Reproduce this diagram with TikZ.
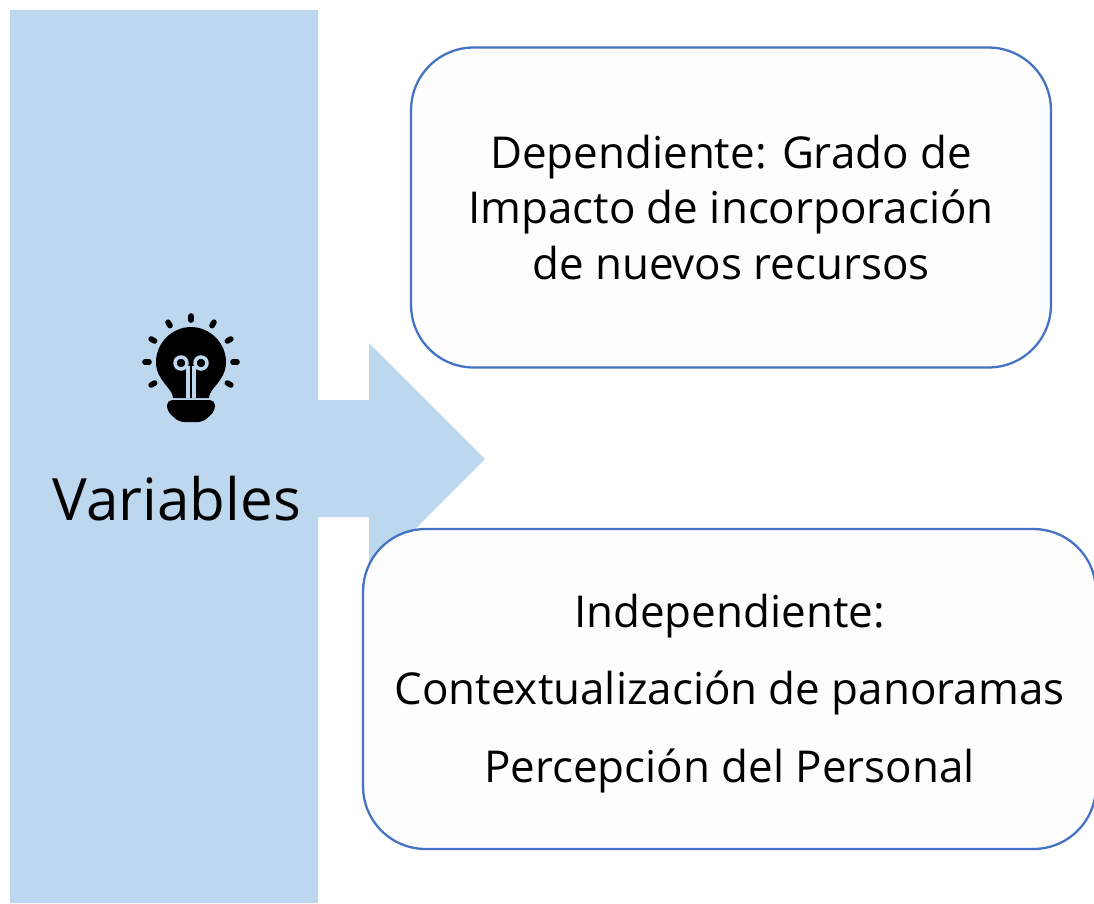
\documentclass[tikz,border=0pt]{standalone}
\usepackage{fontspec}
\setmainfont{Open Sans}
\definecolor{bandblue}{HTML}{BDD7EE}
\definecolor{boxline}{HTML}{4472C4}
\definecolor{boxfill}{HTML}{FDFDFE}
\tikzset{
    varbox/.style={draw=boxline, line width=1.3pt, fill=boxfill, rounded corners=1.25cm, inner sep=0pt, minimum height=6.4cm, align=center},
    ray/.style={line width=3.2pt, line cap=round},
    filament/.style={draw=bandblue, line width=2pt}
}
\begin{document}
\begin{tikzpicture}[x=0.02cm, y=-0.02cm]
    \useasboundingbox (0, 0) rectangle (1094, 903);
    \clip (0, 0) rectangle (1094, 903);

    % band with arrow
    \fill[bandblue] (10, 10) -- (318, 10) -- (318, 400) -- (369, 400) -- (369, 343) -- (485, 459) -- (369, 575) -- (369, 517) -- (318, 517) -- (318, 903) -- (10, 903) -- cycle;

    % bulb
    \begin{scope}[shift={(191, 362)}]
        \foreach \a in {-120, -90, ..., 120} {
            \draw[ray] ({42*sin(\a)}, {-42*cos(\a)}) -- ({46*sin(\a)}, {-46*cos(\a)});
        }
        \fill (-18, 36) .. controls (-18, 26) and (-35, 19) .. (-35, 0) .. controls (-35, -19) and (-19, -35) .. (0, -35) .. controls (19, -35) and (35, -19) .. (35, 0) .. controls (35, 19) and (18, 26) .. (18, 36) -- cycle;
        \fill[rounded corners=3pt] (-24, 38) -- (24, 38) -- (24, 49) -- (12, 60) -- (-12, 60) -- (-24, 49) -- cycle;
        \draw[filament] (-10, 1) circle (6) (10, 1) circle (6);
        \draw[filament] (-3, 4) -- (-3, 36) (3, 4) -- (3, 36);
    \end{scope}

    \node[font=\fontsize{33.2}{40}\selectfont] (variables) at (177, 499) {Variables};

    \node[varbox, minimum width=12.8cm, font=\fontsize{25}{31.6}\selectfont] (dependiente) at (731, 207.5) {Dependiente: Grado de\\Impacto de incorporación\\de nuevos recursos};
    \node[varbox, minimum width=14.66cm, font=\fontsize{25}{44.2}\selectfont] (independiente) at (729.5, 689) {\rule{0pt}{24pt}Independiente:\\Contextualización de panoramas\\Percepción del Personal};
\end{tikzpicture}
\end{document}
